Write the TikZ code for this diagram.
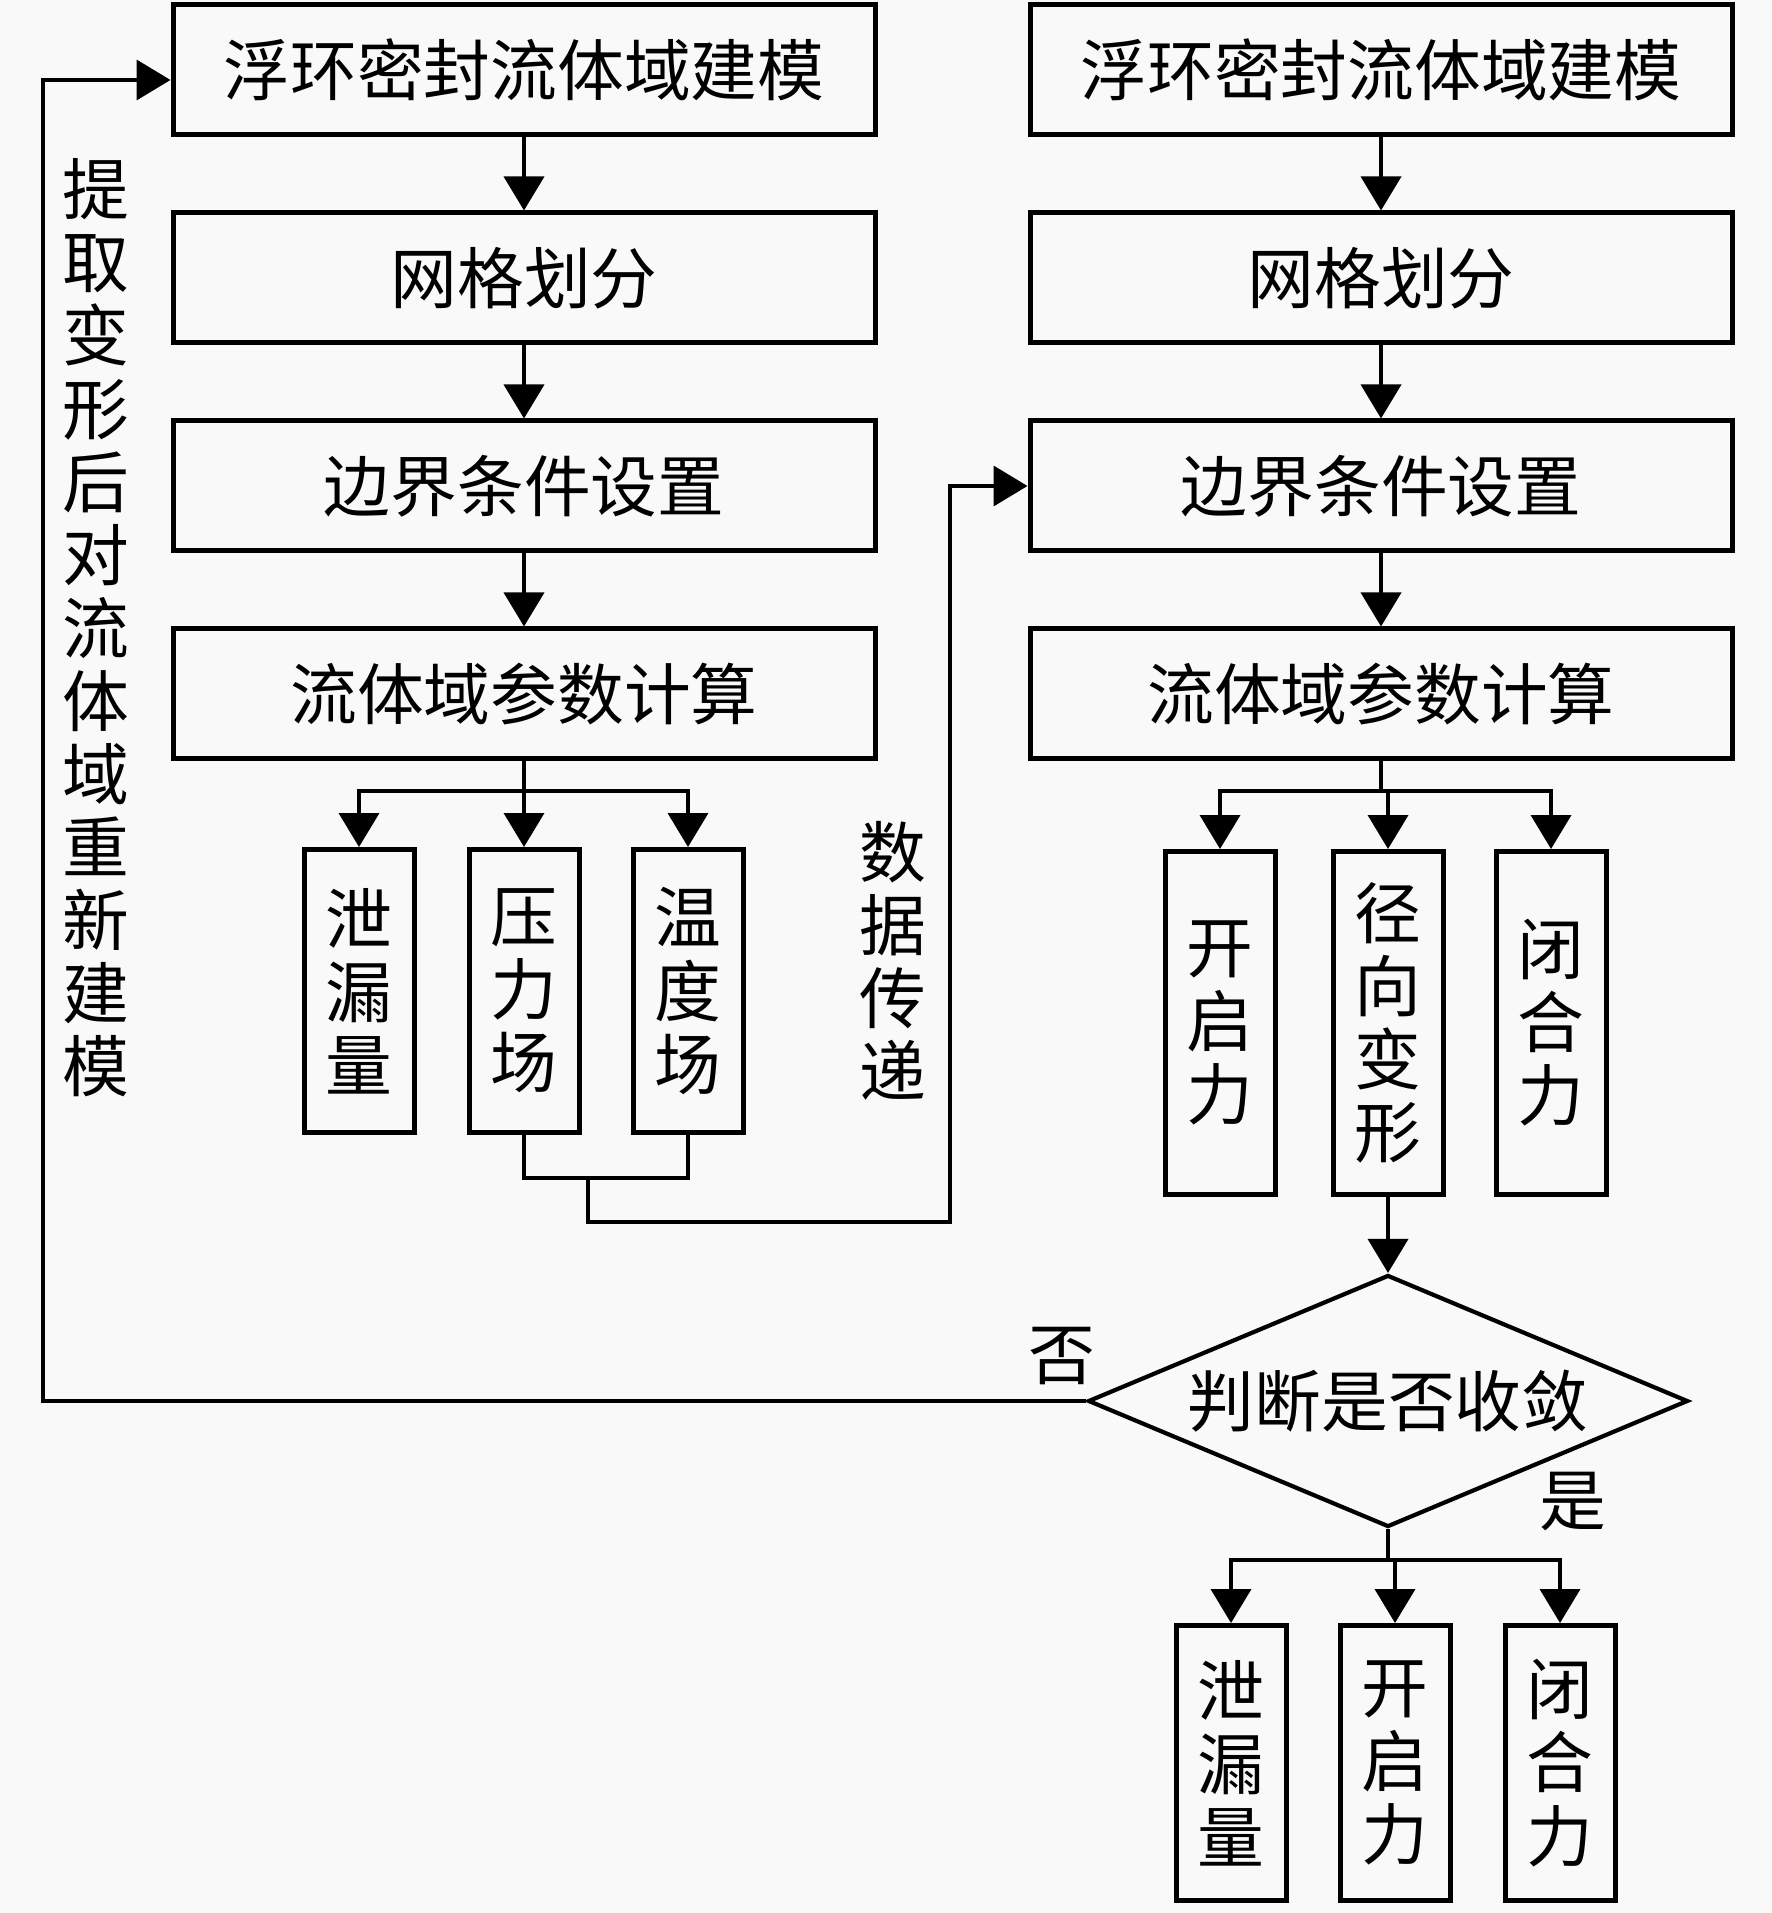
\documentclass[tikz,border=0pt]{standalone}
\usepackage{fontspec}
\newfontfamily\cjk{Noto Sans CJK SC}
\usepackage{tikz}
\usetikzlibrary{arrows.meta,shapes.geometric}
\definecolor{paper}{RGB}{249,249,249}
\newcommand{\boxthick}{0.5mm}
\newcommand{\wirethick}{0.38mm}
\tikzset{
  bigbox/.style={draw, fill=paper, line width=\boxthick, minimum width=70.2mm, minimum height=13mm, inner sep=0pt},
  tallbox/.style={draw, fill=paper, line width=\boxthick, minimum width=11mm, inner sep=0pt, align=center},
  judge/.style={draw, diamond, aspect=2.4, fill=paper, line width=0.42mm, minimum width=60mm, minimum height=25.2mm, inner sep=0pt},
  vtext/.style={align=center, inner sep=0pt},
  arr/.style={line width=\wirethick, -{Triangle[width=4mm,length=3.4mm]}},
  wire/.style={line width=\wirethick},
}

\begin{document}
\begin{tikzpicture}[x=0.1mm, y=-0.1mm, font=\cjk\fontsize{19pt}{20.8pt}\selectfont]
\fill[paper] (0,0) rectangle (1772,1913);
\useasboundingbox (0,0) rectangle (1772,1913);
%left
\node[bigbox] (l1) at (524, 70) {浮环密封流体域建模};
\node[bigbox] (l2) at (524, 278) {网格划分};
\node[bigbox] (l3) at (524, 486) {边界条件设置};
\node[bigbox] (l4) at (524, 694) {流体域参数计算};
\node[tallbox, minimum height=28.3mm] (lo1) at (359, 991) {泄\\漏\\量};
\node[tallbox, minimum height=28.3mm] (lo2) at (524, 991) {压\\力\\场};
\node[tallbox, minimum height=28.3mm] (lo3) at (688, 991) {温\\度\\场};
%right
\node[bigbox] (r1) at (1381, 70) {浮环密封流体域建模};
\node[bigbox] (r2) at (1381, 278) {网格划分};
\node[bigbox] (r3) at (1381, 486) {边界条件设置};
\node[bigbox] (r4) at (1381, 694) {流体域参数计算};
\node[tallbox, minimum height=34.3mm] (ro1) at (1220, 1023) {开\\启\\力};
\node[tallbox, minimum height=34.3mm] (ro2) at (1388, 1023) {径\\向\\变\\形};
\node[tallbox, minimum height=34.3mm] (ro3) at (1551, 1023) {闭\\合\\力};
\node[judge] (jd) at (1388, 1401) {判断是否收敛};
\node[tallbox, minimum height=27.5mm] (bo1) at (1231, 1763) {泄\\漏\\量};
\node[tallbox, minimum height=27.5mm] (bo2) at (1395, 1763) {开\\启\\力};
\node[tallbox, minimum height=27.5mm] (bo3) at (1560, 1763) {闭\\合\\力};
%labels
\node[vtext] (back) at (96, 628) {提\\取\\变\\形\\后\\对\\流\\体\\域\\重\\新\\建\\模};
\node[vtext] (pass) at (893, 961) {数\\据\\传\\递};
\node (no) at (1062, 1356) {否};
\node (yes) at (1573, 1502) {是};
%left arrows
\draw[arr] (l1) -- (l2);
\draw[arr] (l2) -- (l3);
\draw[arr] (l3) -- (l4);
\coordinate (ls) at (524, 791);
\draw[arr] (l4) -- (lo2);
\draw[arr] (ls) -| (lo1);
\draw[arr] (ls) -| (lo3);
%data
\coordinate (u1) at (588, 1178);
\coordinate (u2) at (950, 1222);
\draw[wire] (lo2) |- (u1) -| (lo3);
\draw[arr] (u1) |- (u2) |- (r3);
%right arrows
\draw[arr] (r1) -- (r2);
\draw[arr] (r2) -- (r3);
\draw[arr] (r3) -- (r4);
\coordinate (rs) at (1381, 791);
\draw[wire] (r4) -- (rs);
\draw[arr] (rs) -| (ro1);
\draw[arr] (rs) -| (ro2);
\draw[arr] (rs) -| (ro3);
\draw[arr] (ro2) -- (jd);
%yes
\coordinate (bs) at (1388, 1560);
\draw[wire] (jd) -- (bs);
\draw[arr] (bs) -| (bo1);
\draw[arr] (bs) -| (bo2);
\draw[arr] (bs) -| (bo3);
%no
\coordinate (fb) at (43, 80);
\draw[arr] (jd) -| (fb) -- (fb -| l1.west);
\end{tikzpicture}
\end{document}
